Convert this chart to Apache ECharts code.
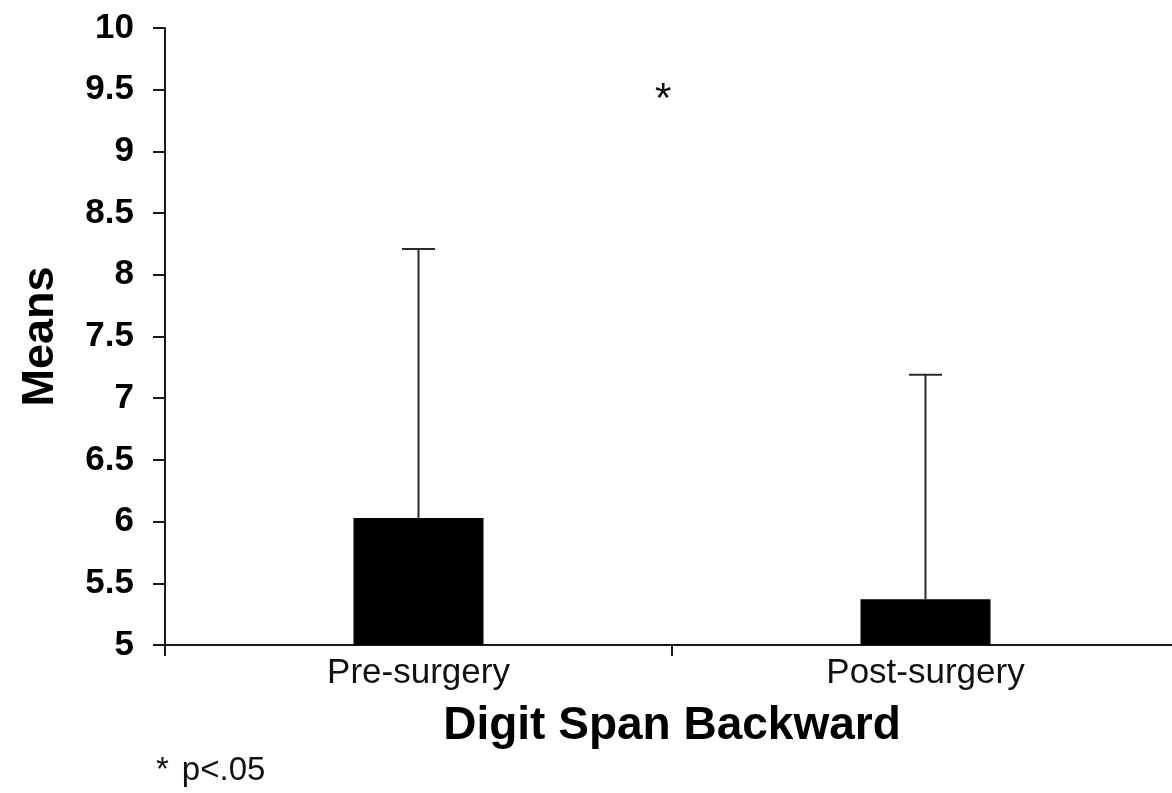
<!DOCTYPE html>
<html>
<head>
<meta charset="utf-8">
<script src="https://cdn.jsdelivr.net/npm/echarts@6/dist/echarts.min.js"></script>
<style>
  html, body { margin: 0; padding: 0; background: #ffffff; overflow: hidden; }
  /* the plot area runs a few pixels past the right edge of the view */
  #chart { width: 1180px; height: 793px; }
</style>
</head>
<body>
<div id="chart"></div>
<script>
// Digit span backward scores before and after surgery
const categories = ['Pre-surgery', 'Post-surgery'];
const means = [6.03, 5.37];
const sdUpper = [2.18, 1.82];   // length of the upward error bar
const yTicks = { min: 5, max: 10, step: 0.5 };
const sigMark = '*';
const footStar = '*';
const footText = 'p<.05';

const FONT = '"Liberation Sans", Arial, Helvetica, sans-serif';
const chart = echarts.init(document.getElementById('chart'), null, { renderer: 'canvas' });

const errData = categories.map((c, i) => [i, means[i], means[i] + sdUpper[i]]);

chart.setOption({
  backgroundColor: '#ffffff',
  animation: false,
  grid: { left: 165, top: 28, right: 1, bottom: 148, containLabel: false },
  xAxis: {
    type: 'category',
    data: categories,
    boundaryGap: true,
    axisLine: { show: true, lineStyle: { color: '#1a1a1a', width: 2 } },
    axisTick: { show: true, length: 11, inside: false, lineStyle: { color: '#1a1a1a', width: 2 } },
    axisLabel: { color: '#111', fontFamily: FONT, fontSize: 35, margin: 11 },
    name: 'Digit Span Backward',
    nameLocation: 'middle',
    nameGap: 58,
    nameTextStyle: { color: '#000', fontFamily: FONT, fontSize: 46, fontWeight: 'bold' }
  },
  yAxis: {
    type: 'value',
    min: yTicks.min,
    max: yTicks.max,
    interval: yTicks.step,
    splitLine: { show: false },
    axisLine: { show: true, lineStyle: { color: '#1a1a1a', width: 2 } },
    axisTick: { show: true, length: 12, lineStyle: { color: '#1a1a1a', width: 2 } },
    axisLabel: { color: '#000', fontFamily: FONT, fontSize: 35, fontWeight: 'bold', margin: 31 },
    name: 'Means',
    nameLocation: 'middle',
    nameGap: 102,
    nameTextStyle: { color: '#000', fontFamily: FONT, fontSize: 45, fontWeight: 'bold' }
  },
  series: [
    {
      type: 'bar',
      data: means,
      barWidth: 130,
      itemStyle: { color: '#000000' },
      z: 2
    },
    {
      type: 'custom',
      data: errData,
      z: 3,
      renderItem: function (params, api) {
        const base = api.coord([api.value(0), api.value(1)]);
        const top = api.coord([api.value(0), api.value(2)]);
        const half = 16.5;
        const style = { stroke: '#2a2a2a', lineWidth: 2 };
        return {
          type: 'group',
          children: [
            { type: 'line', shape: { x1: base[0], y1: base[1], x2: top[0], y2: top[1] }, style: style },
            { type: 'line', shape: { x1: top[0] - half, y1: top[1], x2: top[0] + half, y2: top[1] }, style: style }
          ]
        };
      }
    }
  ],
  graphic: [
    {
      type: 'text',
      left: 655,
      top: 79,
      style: { text: sigMark, fontFamily: FONT, fontSize: 42, fill: '#111' }
    },
    {
      type: 'text',
      left: 156,
      top: 754,
      style: {
        text: '{a|' + footStar + '}{b|' + footText + '}',
        fontFamily: FONT,
        fill: '#111',
        rich: {
          a: { fontFamily: FONT, fontSize: 33, fill: '#111', padding: [0, 13, 0, 0] },
          b: { fontFamily: FONT, fontSize: 33, fill: '#111' }
        }
      }
    }
  ]
});
</script>
</body>
</html>
